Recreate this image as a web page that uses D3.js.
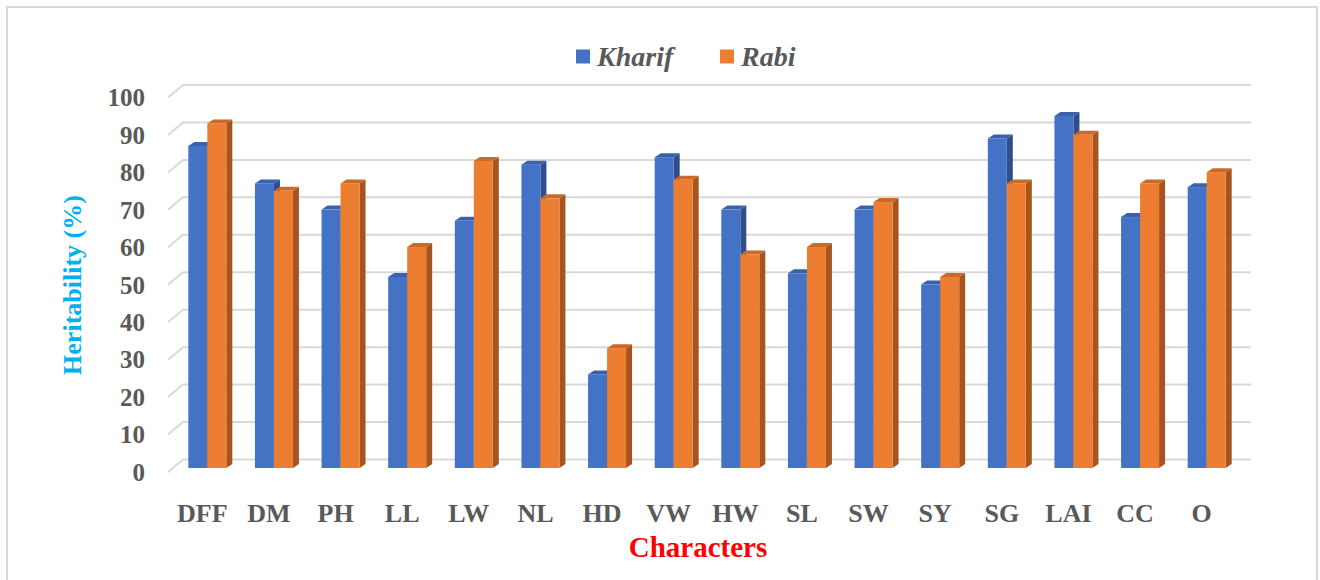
<!DOCTYPE html>
<html><head><meta charset="utf-8">
<script src="https://cdn.jsdelivr.net/npm/d3@7"></script>
<style>body{margin:0;background:#fff}svg{display:block}</style>
</head><body>
<script>
const categories = ["DFF","DM","PH","LL","LW","NL","HD","VW","HW","SL","SW","SY","SG","LAI","CC","O"];
const kharif = [86,76,69,51,66,81,25,83,69,52,69,49,88,94,67,75];
const rabi   = [92,74,76,59,82,72,32,77,57,59,71,51,76,89,76,79];
const yTicks = [0,10,20,30,40,50,60,70,80,90,100];
const seriesNames = ["Kharif","Rabi"];

const W = 1320, H = 580;
const svg = d3.select("body").append("svg").attr("width", W).attr("height", H);

// chart border
svg.append("rect").attr("x",7).attr("y",7).attr("width",1310).attr("height",576)
  .attr("fill","#fff").attr("stroke","#d9d9d9").attr("stroke-width",2);

const y = d3.scaleLinear().domain([0,100]).range([472, 97.5]); // front plane
const x = d3.scaleBand().domain(categories).range([168, 1234]);
const depthDx = 15, depthDy = -12.5;   // wall depth
const barDx = 6, barDy = -4;           // bar depth
const barFrontOff = -4;                // bar front plane offset (y)
const barShift = 6;                    // bar front plane offset (x)
const bw = 19;
const backRight = 1251;

// gridlines
const grid = svg.append("g");
yTicks.forEach(t => {
  const yf = y(t), yb = y(t) + depthDy;
  grid.append("path")
    .attr("d", `M168,${yf}L${168+depthDx},${yb}L${backRight},${yb}`)
    .attr("fill","none").attr("stroke","#d9d9d9").attr("stroke-width",2);
});

// y tick labels
svg.append("g").selectAll("text").data(yTicks).join("text")
  .attr("x",145).attr("y",d=>y(d)).attr("dy","0.35em")
  .attr("text-anchor","end")
  .attr("font-family","'Liberation Serif','Times New Roman',serif")
  .attr("font-weight","bold").attr("font-size",25).attr("fill","#595959")
  .text(d=>d);

// bars
const colors = {
  Kharif: {front:"#4472C4", side:"#2E4F8C", top:"#3A62AC"},
  Rabi:   {front:"#ED7D31", side:"#A8541F", top:"#C96A29"}
};
const bars = svg.append("g");
categories.forEach((c,i) => {
  const cx = x(c) + x.bandwidth()/2 + barShift;
  [[kharif[i],"Kharif",cx-bw],[rabi[i],"Rabi",cx]].forEach(([v,s,x0]) => {
    const yt = y(v) + barFrontOff, yb = y(0) + barFrontOff;
    const col = colors[s];
    const g = bars.append("g");
    g.append("path").attr("d",
      `M${x0+bw},${yt}L${x0+bw+barDx},${yt+barDy}L${x0+bw+barDx},${yb+barDy}L${x0+bw},${yb}Z`)
      .attr("fill",col.side);
    g.append("path").attr("d",
      `M${x0},${yt}L${x0+barDx},${yt+barDy}L${x0+bw+barDx},${yt+barDy}L${x0+bw},${yt}Z`)
      .attr("fill",col.top);
    g.append("rect").attr("x",x0).attr("y",yt).attr("width",bw).attr("height",yb-yt)
      .attr("fill",col.front);
  });
});

// x labels
svg.append("g").selectAll("text").data(categories).join("text")
  .attr("x",d=>x(d)+x.bandwidth()/2+1).attr("y",521.5)
  .attr("text-anchor","middle")
  .attr("font-family","'Liberation Serif','Times New Roman',serif")
  .attr("font-weight","bold").attr("font-size",26).attr("fill","#595959")
  .text(d=>d);

// axis titles
svg.append("text").attr("transform","translate(81,285) rotate(-90)")
  .attr("text-anchor","middle")
  .attr("font-family","'Liberation Serif','Times New Roman',serif")
  .attr("font-weight","bold").attr("font-size",26).attr("fill","#00B0F0")
  .text("Heritability (%)");
svg.append("text").attr("x",698).attr("y",557)
  .attr("text-anchor","middle")
  .attr("font-family","'Liberation Serif','Times New Roman',serif")
  .attr("font-weight","bold").attr("font-size",29).attr("fill","#FF0000")
  .text("Characters");

// legend
const legX = [576, 720];
seriesNames.forEach((s,i) => {
  svg.append("rect").attr("x",legX[i]).attr("y",49.5).attr("width",14).attr("height",14)
    .attr("fill",colors[s].front);
  svg.append("text").attr("x",legX[i]+21).attr("y",65.5)
    .attr("font-family","'Liberation Serif','Times New Roman',serif")
    .attr("font-weight","bold").attr("font-style","italic")
    .attr("font-size",28).attr("fill","#595959").text(s);
});
</script>
</body></html>
